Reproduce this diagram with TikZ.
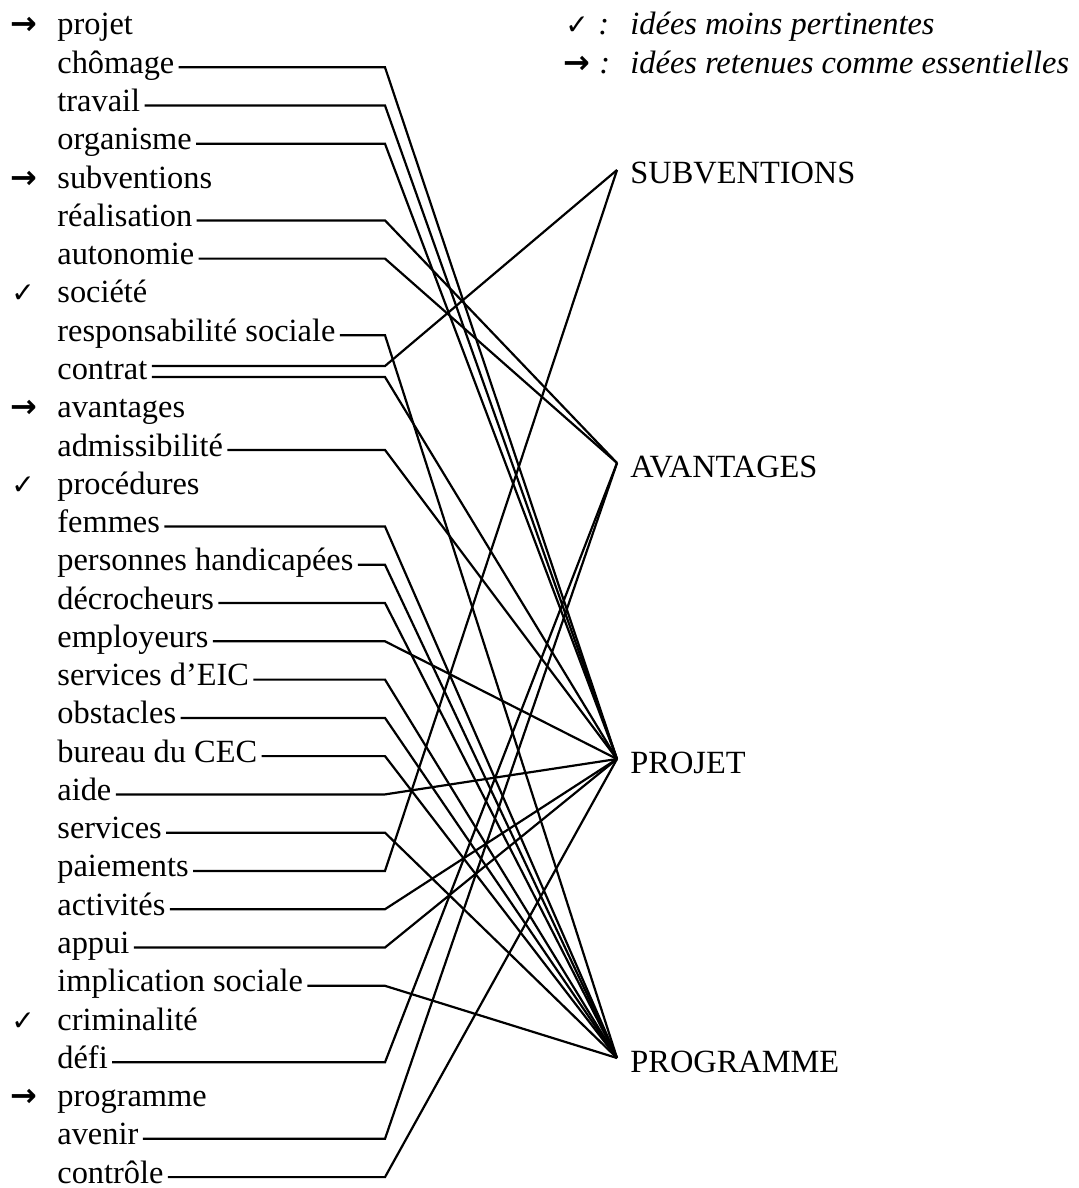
\documentclass[tikz,border=0pt]{standalone}
\usepackage{fontspec}
\usepackage{tikz}
\setmainfont{Liberation Serif}
\newfontfamily\symbfont{DejaVu Sans}
\usetikzlibrary{positioning}

\begin{document}
\begin{tikzpicture}[
    x=0.5pt, y=-0.5pt,
    word/.style={anchor=base west, inner xsep=2pt, inner ysep=0pt, text height=10pt, text depth=4pt, font=\fontsize{16.2}{19}\selectfont},
    hub/.style={anchor=west, inner xsep=6.5pt, inner ysep=0pt, text height=14pt, text depth=0pt, font=\fontsize{16.2}{19}\selectfont},
    checkmark/.style={anchor=base west, inner sep=0pt, font=\symbfont\fontsize{14}{16}\selectfont},
    arrowmark/.style={anchor=base west, inner sep=0pt, font=\symbfont\bfseries\fontsize{16}{18}\selectfont},
    legend/.style={anchor=base west, inner sep=0pt, font=\fontsize{16.2}{19}\selectfont\itshape},
    link/.style={line width=1.1pt}
  ]
    \useasboundingbox (0,0) rectangle (1079,1188);

    % legend
    \node[checkmark] (legcheck) at (565,35) {✓};
    \node[legend] (legcheckcolon) at (598,35) {:};
    \node[legend] (legchecktext) at (630,35) {idées moins pertinentes};
    \node[arrowmark] (legarrow) at (563,73.3) {→};
    \node[legend] (legarrowcolon) at (599,73.3) {:};
    \node[legend] (legarrowtext) at (630,73.3) {idées retenues comme essentielles};

    % markers
    \node[arrowmark] (mprojet) at (10,35) {→};
    \node[arrowmark] (msubventions) at (10,188.1) {→};
    \node[checkmark] (msociete) at (11,302.9) {✓};
    \node[arrowmark] (mavantages) at (10,417.7) {→};
    \node[checkmark] (mprocedures) at (11,494.2) {✓};
    \node[checkmark] (mcriminalite) at (11,1030) {✓};
    \node[arrowmark] (mprogramme) at (10,1106.6) {→};

    % words
    \node[word] (projet) at (53,35) {projet};
    \node[word] (chomage) at (53,73.3) {chômage};
    \node[word] (travail) at (53,111.5) {travail};
    \node[word] (organisme) at (53,149.8) {organisme};
    \node[word] (subventions) at (53,188.1) {subventions};
    \node[word] (realisation) at (53,226.4) {réalisation};
    \node[word] (autonomie) at (53,264.6) {autonomie};
    \node[word] (societe) at (53,302.9) {société};
    \node[word] (respsoc) at (53,341.2) {responsabilité sociale};
    \node[word] (contrat) at (53,379.4) {contrat};
    \node[word] (avantages) at (53,417.7) {avantages};
    \node[word] (admiss) at (53,456) {admissibilité};
    \node[word] (procedures) at (53,494.2) {procédures};
    \node[word] (femmes) at (53,532.5) {femmes};
    \node[word] (personnes) at (53,570.8) {personnes handicapées};
    \node[word] (decrocheurs) at (53,609) {décrocheurs};
    \node[word] (employeurs) at (53,647.3) {employeurs};
    \node[word] (eic) at (53,685.6) {services d’EIC};
    \node[word] (obstacles) at (53,723.9) {obstacles};
    \node[word] (bureau) at (53,762.1) {bureau du CEC};
    \node[word] (aide) at (53,800.4) {aide};
    \node[word] (services) at (53,838.7) {services};
    \node[word] (paiements) at (53,876.9) {paiements};
    \node[word] (activites) at (53,915.2) {activités};
    \node[word] (appui) at (53,953.5) {appui};
    \node[word] (implication) at (53,991.8) {implication sociale};
    \node[word] (criminalite) at (53,1030) {criminalité};
    \node[word] (defi) at (53,1068.3) {défi};
    \node[word] (programme) at (53,1106.6) {programme};
    \node[word] (avenir) at (53,1144.8) {avenir};
    \node[word] (controle) at (53,1183.1) {contrôle};

    % hubs
    \node[hub] (hubsubv) at (617,170) {SUBVENTIONS};
    \node[hub] (hubavan) at (617,463) {AVANTAGES};
    \node[hub] (hubproj) at (617,759) {PROJET};
    \node[hub] (hubprog) at (617,1058) {PROGRAMME};

    \coordinate (bend) at (385,0);
    \coordinate (contratup) at ([yshift=3.7pt]contrat.east);
    \coordinate (contratlow) at ([yshift=-1.8pt]contrat.east);

    % links
    \draw[link] (chomage.east) -- (chomage.east -| bend) -- (hubproj.west);
    \draw[link] (travail.east) -- (travail.east -| bend) -- (hubproj.west);
    \draw[link] (organisme.east) -- (organisme.east -| bend) -- (hubproj.west);
    \draw[link] (realisation.east) -- (realisation.east -| bend) -- (hubavan.west);
    \draw[link] (autonomie.east) -- (autonomie.east -| bend) -- (hubavan.west);
    \draw[link] (respsoc.east) -- (respsoc.east -| bend) -- (hubprog.west);
    \draw[link] (contratup) -- (contratup -| bend) -- (hubsubv.west);
    \draw[link] (contratlow) -- (contratlow -| bend) -- (hubproj.west);
    \draw[link] (admiss.east) -- (admiss.east -| bend) -- (hubproj.west);
    \draw[link] (femmes.east) -- (femmes.east -| bend) -- (hubprog.west);
    \draw[link] (personnes.east) -- (personnes.east -| bend) -- (hubprog.west);
    \draw[link] (decrocheurs.east) -- (decrocheurs.east -| bend) -- (hubprog.west);
    \draw[link] (employeurs.east) -- (employeurs.east -| bend) -- (hubproj.west);
    \draw[link] (eic.east) -- (eic.east -| bend) -- (hubprog.west);
    \draw[link] (obstacles.east) -- (obstacles.east -| bend) -- (hubprog.west);
    \draw[link] (bureau.east) -- (bureau.east -| bend) -- (hubprog.west);
    \draw[link] (aide.east) -- (aide.east -| bend) -- (hubproj.west);
    \draw[link] (services.east) -- (services.east -| bend) -- (hubprog.west);
    \draw[link] (paiements.east) -- (paiements.east -| bend) -- (hubsubv.west);
    \draw[link] (activites.east) -- (activites.east -| bend) -- (hubproj.west);
    \draw[link] (appui.east) -- (appui.east -| bend) -- (hubproj.west);
    \draw[link] (implication.east) -- (implication.east -| bend) -- (hubprog.west);
    \draw[link] (defi.east) -- (defi.east -| bend) -- (hubavan.west);
    \draw[link] (avenir.east) -- (avenir.east -| bend) -- (hubavan.west);
    \draw[link] (controle.east) -- (controle.east -| bend) -- (hubproj.west);
\end{tikzpicture}
\end{document}
